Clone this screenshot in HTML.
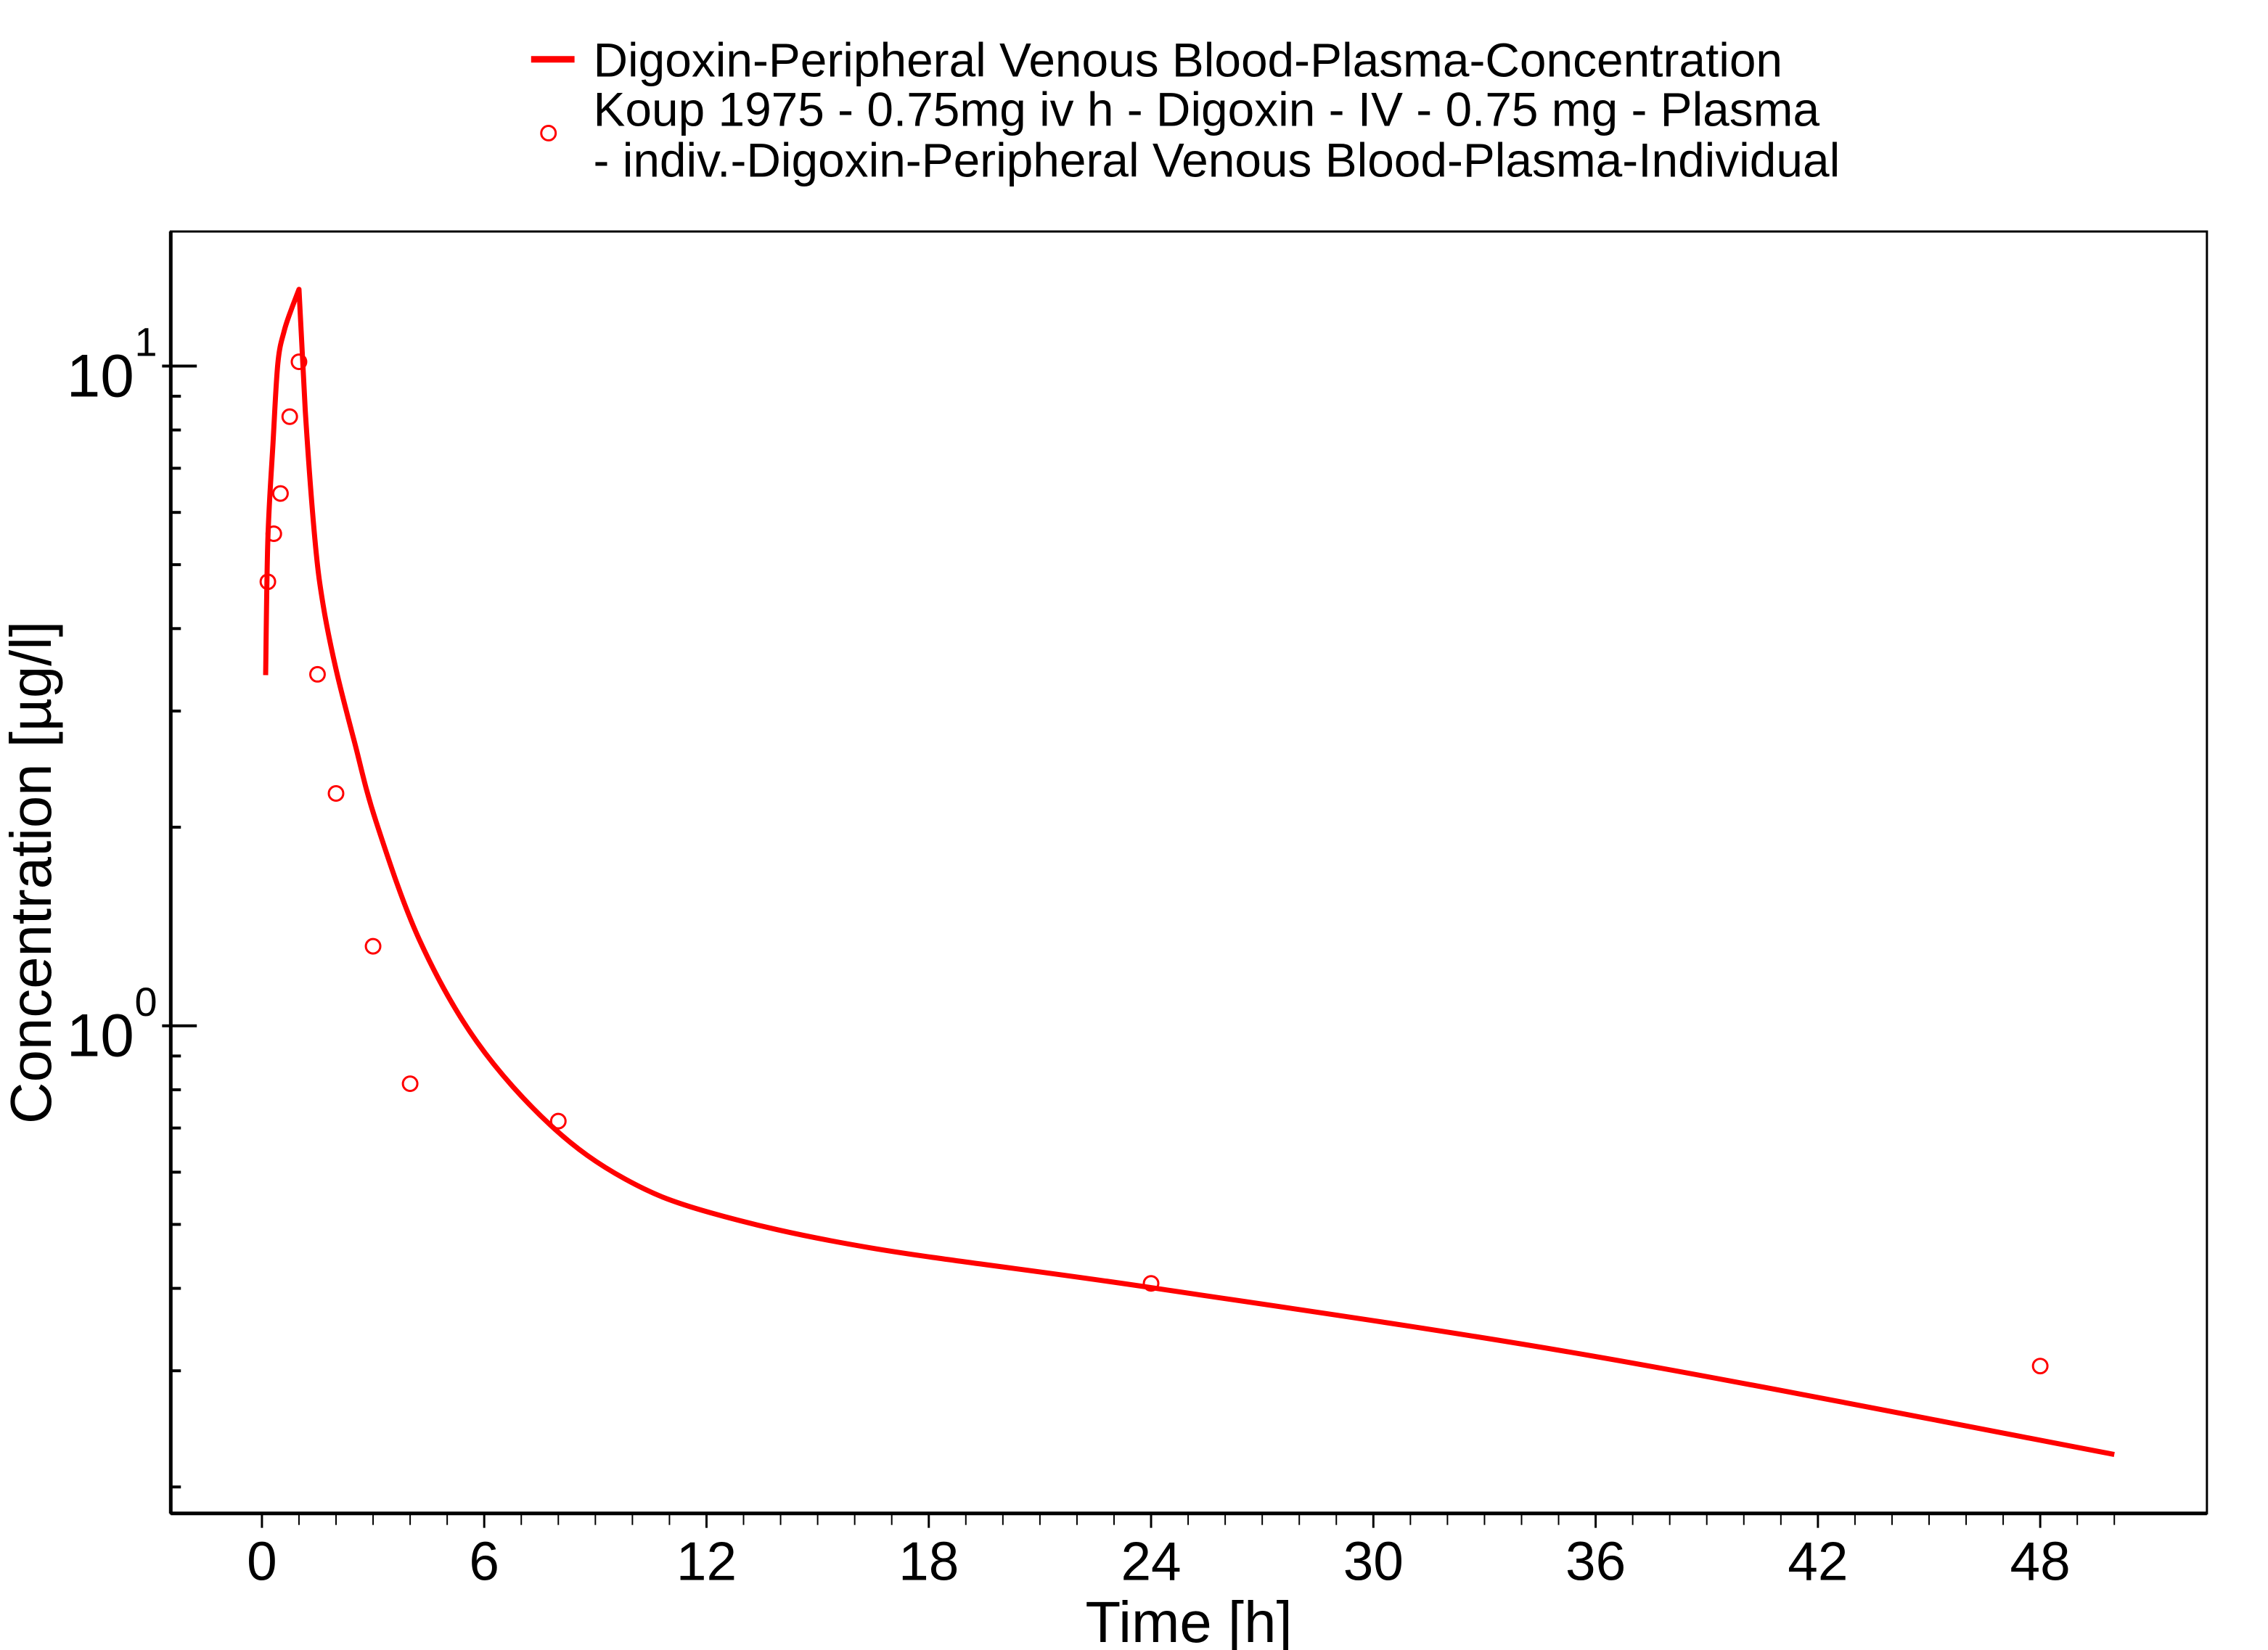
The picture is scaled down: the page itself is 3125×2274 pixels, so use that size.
<!DOCTYPE html>
<html><head><meta charset="utf-8"><style>
html,body{margin:0;padding:0;background:#fff}
svg{display:block;font-family:"Liberation Sans",Arial,sans-serif}
</style></head><body>
<svg id="chart" width="3125" height="2274" viewBox="0 0 3125 2274" xmlns="http://www.w3.org/2000/svg">
<rect x="0" y="0" width="3125" height="2274" fill="#fff"/>
<g transform="scale(0.997)">
<g id="legend">
  <line x1="734" y1="82" x2="794" y2="82" stroke="#ff0000" stroke-width="9"/>
  <text x="820" y="106" font-size="66">Digoxin-Peripheral Venous Blood-Plasma-Concentration</text>
  <circle cx="758" cy="184" r="10" fill="none" stroke="#ff0000" stroke-width="3"/>
  <text x="820" y="174" font-size="66">Koup 1975 - 0.75mg iv h - Digoxin - IV - 0.75 mg - Plasma</text>
  <text x="820" y="244" font-size="66">- indiv.-Digoxin-Peripheral Venous Blood-Plasma-Individual</text>
</g>
<rect x="236" y="320" width="2814" height="1772" fill="none" stroke="#000" stroke-width="3"/>
<line x1="236" y1="2092" x2="3050" y2="2092" stroke="#000" stroke-width="5"/>
<line x1="236" y1="320" x2="236" y2="2092" stroke="#000" stroke-width="5"/>
<g id="xticks"></g>
<g id="yticks"></g>
<g id="series"></g>
<text x="1643" y="2270" font-size="80" text-anchor="middle">Time [h]</text>
<text transform="translate(70,1206) rotate(-90)" font-size="80" text-anchor="middle">Concentration [µg/l]</text>
</g>
</svg>
<script>
const xTickLabels = [0, 6, 12, 18, 24, 30, 36, 42, 48];
const simTime = [0.1, 0.16, 0.3, 0.43, 0.6, 0.82, 1.0, 1.17, 1.43, 1.65, 2.0, 2.5, 3.08, 4.25, 5.8, 7.8, 9.8, 12.1, 16.4, 24, 35.9, 50.0];
const simConc = [3.40, 5.46, 7.66, 10.1, 11.3, 12.3, 13.07, 8.55, 5.46, 4.35, 3.47, 2.69, 2.04, 1.35, 0.946, 0.706, 0.586, 0.521, 0.461, 0.401, 0.316, 0.224];
const obsTime = [0.16, 0.32, 0.5, 0.75, 1.0, 1.5, 2, 3, 4, 8, 24, 48];
const obsConc = [4.71, 5.57, 6.41, 8.38, 10.15, 3.41, 2.25, 1.32, 0.817, 0.717, 0.407, 0.305];

const NS = "http://www.w3.org/2000/svg";
function xs(t){ return 362 + t * 51.2; }
function ys(v){ return 1418 - Math.log10(v) * 912; }
function mk(tag, attrs, parent){
  const e = document.createElementNS(NS, tag);
  for (const k in attrs) e.setAttribute(k, attrs[k]);
  parent.appendChild(e); return e;
}
const xt = document.getElementById('xticks');
for (let h = 0; h <= 50; h++) {
  const major = xTickLabels.includes(h);
  const l = mk('line', {x1: xs(h), x2: xs(h), y1: 2092, y2: major ? 2112 : 2108, stroke: '#000', 'stroke-width': major ? 3 : 2}, xt);
  
  
}
xTickLabels.forEach(v => {
  const t = mk('text', {x: xs(v), y: 2184, 'font-size': 75, 'text-anchor': 'middle'}, xt);
  t.textContent = v;
  
  
});
const yt = document.getElementById('yticks');
[0.2,0.3,0.4,0.5,0.6,0.7,0.8,0.9,2,3,4,5,6,7,8,9].forEach(v => {
  const l = mk('line', {x1: 236, x2: 250, y1: ys(v), y2: ys(v), stroke: '#000', 'stroke-width': 4}, yt);
  
  
});
[[1,'0'],[10,'1']].forEach(([v,e]) => {
  const l = mk('line', {x1: 224, x2: 272, y1: ys(v), y2: ys(v), stroke: '#000', 'stroke-width': 4}, yt);
  
  
  const t = mk('text', {x: 92, y: ys(v) + 42, 'font-size': 84}, yt);
  t.textContent = '10';
  
  
  const s = mk('text', {x: 186, y: ys(v) - 14, 'font-size': 56}, yt);
  s.textContent = e;
  
  
});
const sg = document.getElementById('series');
const pts = simTime.map((t,i) => [xs(t), ys(simConc[i])]);
let d = 'M' + pts[0][0] + ',' + pts[0][1];
for (let i = 0; i < pts.length - 1; i++) {
  const p0 = pts[Math.max(0, i-1)], p1 = pts[i], p2 = pts[i+1], p3 = pts[Math.min(pts.length-1, i+2)];
  if (i === 5 || i === 6) { d += ' L' + p2[0] + ',' + p2[1]; continue; }
  const c1 = [p1[0] + (p2[0]-p0[0])/6, p1[1] + (p2[1]-p0[1])/6];
  const c2 = [p2[0] - (p3[0]-p1[0])/6, p2[1] - (p3[1]-p1[1])/6];
  d += ' C' + c1[0] + ',' + c1[1] + ' ' + c2[0] + ',' + c2[1] + ' ' + p2[0] + ',' + p2[1];
}
const p = mk('path', {d: d, fill: 'none', stroke: '#ff0000', 'stroke-width': 7, 'stroke-linejoin': 'round'}, sg);


obsTime.forEach((t,i) => {
  const c = mk('circle', {cx: xs(t), cy: ys(obsConc[i]), r: 10, fill: 'none', stroke: '#ff0000', 'stroke-width': 3}, sg);
  
  
});
</script>
</body></html>
